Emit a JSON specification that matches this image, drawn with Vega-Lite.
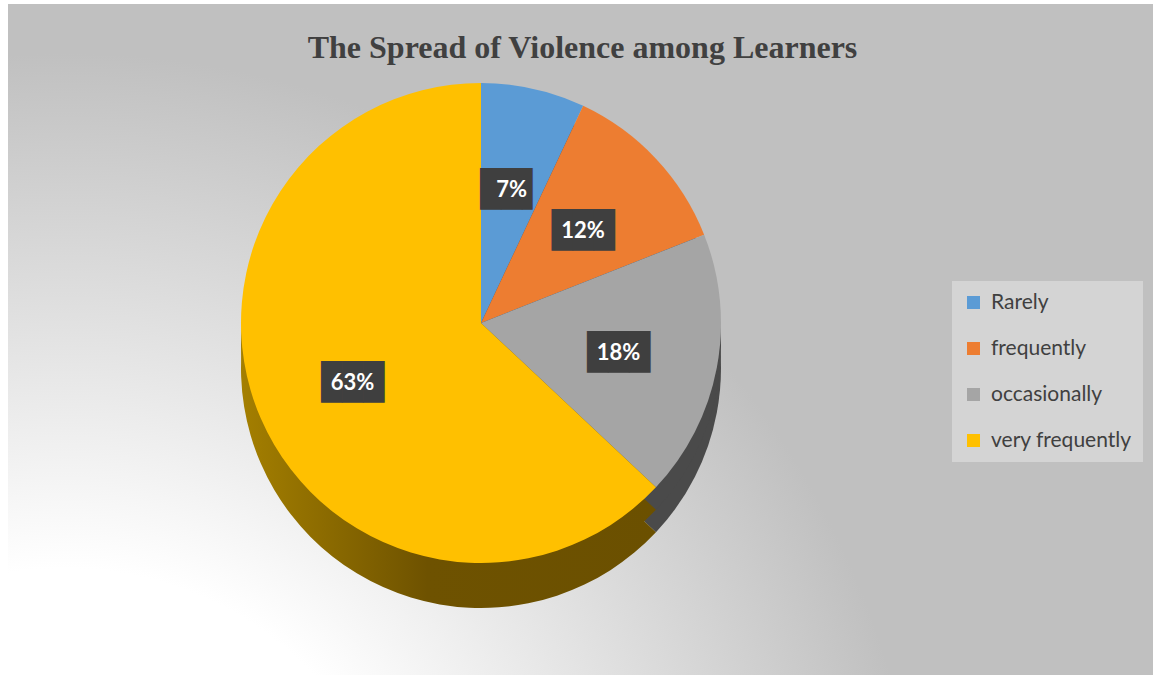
{
  "$schema": "https://vega.github.io/schema/vega-lite/v6.json",
  "autosize": "none",
  "width": 1145,
  "height": 671,
  "padding": {"left": 8, "top": 4, "right": 0, "bottom": 0},
  "background": "#FFFFFF",
  "view": {
    "stroke": null,
    "fill": {
      "gradient": "radial",
      "x1": 0.05, "y1": 1.0, "r1": 0,
      "x2": 0.05, "y2": 1.0, "r2": 0.75,
      "stops": [
        {"offset": 0, "color": "#FFFFFF"},
        {"offset": 0.4, "color": "#FFFFFF"},
        {"offset": 1, "color": "#C0C0C0"}
      ]
    }
  },
  "title": {
    "text": "The Spread of Violence among Learners",
    "font": "Liberation Serif",
    "fontSize": 32,
    "fontWeight": "bold",
    "color": "#404040",
    "anchor": "middle",
    "frame": "group",
    "dx": 2,
    "offset": -61
  },
  "data": {
    "values": [
      {"category": "Rarely", "value": 0.07, "order": 1},
      {"category": "frequently", "value": 0.12, "order": 2},
      {"category": "occasionally", "value": 0.18, "order": 3},
      {"category": "very frequently", "value": 0.63, "order": 4}
    ]
  },
  "encoding": {
    "theta": {"field": "value", "type": "quantitative", "stack": true},
    "order": {"field": "order", "type": "quantitative"}
  },
  "layer": [
    {
      "mark": {"type": "arc", "outerRadius": 240, "xOffset": -99.5, "yOffset": 28.5},
      "encoding": {
        "detail": {"field": "category"},
        "color": {
          "condition": [
            {"test": "datum.category === 'occasionally'", "value": "#4A4A4A"},
            {"test": "datum.category === 'very frequently'", "value": {
              "gradient": "linear", "x1": 0, "y1": 0, "x2": 1, "y2": 0,
              "stops": [
                {"offset": 0, "color": "#A47F00"},
                {"offset": 0.45, "color": "#6E5200"},
                {"offset": 1, "color": "#6B5000"}
              ]
            }}
          ],
          "value": "#2E4E6E"
        }
      }
    },
    {
      "mark": {"type": "arc", "outerRadius": 240, "xOffset": -99.5, "yOffset": 6},
      "encoding": {
        "detail": {"field": "category"},
        "color": {
          "condition": [
            {"test": "datum.category === 'occasionally'", "value": "#4A4A4A"},
            {"test": "datum.category === 'very frequently'", "value": {
              "gradient": "linear", "x1": 0, "y1": 0, "x2": 1, "y2": 0,
              "stops": [
                {"offset": 0, "color": "#A47F00"},
                {"offset": 0.45, "color": "#6E5200"},
                {"offset": 1, "color": "#6B5000"}
              ]
            }}
          ],
          "value": "#2E4E6E"
        }
      }
    },
    {
      "mark": {"type": "arc", "outerRadius": 240, "xOffset": -99.5, "yOffset": -16.5},
      "encoding": {
        "color": {
          "field": "category",
          "type": "nominal",
          "sort": null,
          "scale": {
            "domain": ["Rarely", "frequently", "occasionally", "very frequently"],
            "range": ["#5B9BD5", "#ED7D31", "#A5A5A5", "#FFC000"]
          },
          "legend": {
            "title": null,
            "orient": "none",
            "legendX": 944,
            "legendY": 277,
            "fillColor": "#D4D4D4",
            "padding": 11,
            "symbolType": "square",
            "symbolSize": 169,
            "symbolStrokeWidth": 0,
            "labelFont": "Lato",
            "labelFontSize": 21,
            "labelColor": "#404040",
            "labelOffset": 7,
            "rowPadding": 24
          }
        }
      }
    },
    {
      "mark": {"type": "text", "radius": 140, "xOffset": -99.5, "yOffset": -12.5, "font": "DejaVu Sans Mono", "fontSize": 35, "baseline": "middle", "align": "center", "color": "#3F3F3F"},
      "encoding": {
        "detail": {"field": "category"},
        "text": {"condition": {"test": "datum.category === 'Rarely'", "value": "██▌"}, "value": "███"}
      }
    },
    {
      "mark": {"type": "text", "radius": 140, "xOffset": -99.5, "yOffset": -12.5, "font": "Lato", "fontSize": 22, "fontWeight": "bold", "baseline": "middle", "align": "center", "color": "#FFFFFF"},
      "encoding": {
        "detail": {"field": "category"},
        "text": {"field": "value", "type": "quantitative", "format": ".0%"}
      }
    }
  ]
}
